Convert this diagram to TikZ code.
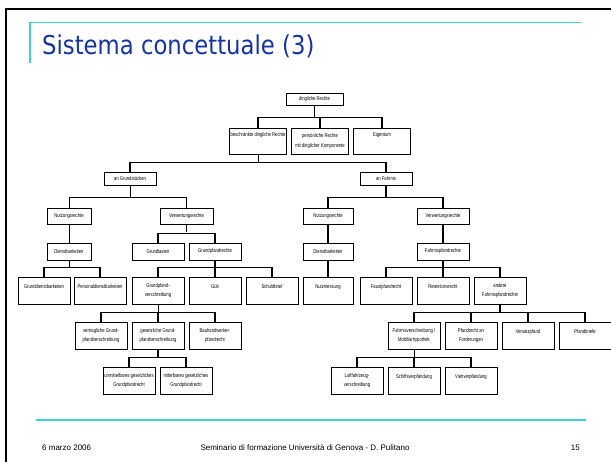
\documentclass[tikz,border=0pt]{standalone}
\usepackage{fontspec}
\setmainfont{Liberation Sans}
\newfontfamily\titlefont[FakeStretch=0.875]{DejaVu Sans}
\newfontfamily\boxfont[FakeStretch=0.76]{Liberation Sans}
\usetikzlibrary{shadows}
\definecolor{slideblue}{RGB}{22,52,160}
\definecolor{slidecyan}{RGB}{64,208,208}
\tikzset{
  recht/.style={draw=black, line width=0.5pt, fill=white, inner xsep=0.5pt, inner ysep=1pt,
    minimum width=52pt, align=center, font=\boxfont\fontsize{5.5}{9.5}\selectfont,
    drop shadow={shadow xshift=0.6pt, shadow yshift=-0.6pt, fill=black!70, opacity=1}},
  zeile2/.style={minimum width=57pt, minimum height=26pt},
  kopf2/.style={text height=7.5pt, text depth=16.5pt},
  hoch/.style={minimum height=27pt},
  kopf/.style={text height=10.5pt, text depth=14.5pt},
  stem/.style={line width=0.6pt},
  bar/.style={line width=1.5pt}
}
\begin{document}
\begin{tikzpicture}[x=1pt,y=1pt]
  \useasboundingbox (0,0) rectangle (611,-462);
  % slide frame
  \draw [line width=2pt] (6.2,-462) -- (6.2,-9) -- (611,-9);
  \draw [slidecyan, line width=1.3pt] (30,-63) -- (30,-22.5) -- (581,-22.5);
  \draw [slidecyan, line width=1.3pt] (36,-420) -- (586,-420);
  \node [anchor=base west, inner sep=0pt, text=slideblue, font=\titlefont\fontsize{26}{30}\selectfont] (titel) at (42,-55) {Sistema concettuale (3)};
  % footer
  \node [anchor=base west, inner sep=0pt, font=\fontsize{8}{9}\selectfont] (datum) at (42,-450) {6 marzo 2006};
  \node [anchor=base, inner sep=0pt, font=\fontsize{8}{9}\selectfont] (seminar) at (305,-450) {Seminario di formazione Università di Genova - D. Pulitano};
  \node [anchor=base east, inner sep=0pt, font=\fontsize{8}{9}\selectfont] (seite) at (580,-450) {15};
  % level 1 and 2
  \node [recht, minimum width=57pt, minimum height=12pt] (dR) at (314.5,-99) {dingliche Rechte};
  \node [recht, zeile2, kopf2] (bdR) at (258,-141) {beschränkte dingliche Rechte};
  \node [recht, zeile2] (pR) at (320,-141) {persönliche Rechte\\mit dinglicher Komponente};
  \node [recht, zeile2, kopf2] (eig) at (382,-141) {Eigentum};
  % level 3 and 4
  \node [recht, minimum height=13pt] (anG) at (130,-178.5) {an Grundstücken};
  \node [recht, minimum height=13pt] (anF) at (386,-178.5) {an Fahrnis};
  \node [recht, minimum width=44pt, minimum height=16pt] (nrG) at (69,-216) {Nutzungsrechte};
  \node [recht, minimum width=53pt, minimum height=16pt] (vrG) at (186.5,-216) {Verwertungsrechte};
  \node [recht, minimum width=50pt, minimum height=16pt] (nrF) at (328,-216) {Nutzungsrechte};
  \node [recht, minimum height=16pt] (vrF) at (443,-216) {Verwertungsrechte};
  % level 5
  \node [recht, minimum width=44pt, minimum height=17pt] (dbG) at (69,-251.5) {Dienstbarkeiten};
  \node [recht, minimum height=17pt] (gl) at (158,-251.5) {Grundlasten};
  \node [recht, minimum height=17pt] (gpr) at (215,-251.5) {Grundpfandrechte};
  \node [recht, minimum width=50pt, minimum height=17pt] (dbF) at (328,-251.5) {Dienstbarkeiten};
  \node [recht, minimum height=17pt] (fpr) at (443,-251.5) {Fahrnispfandrechte};
  % level 6
  \node [recht, hoch, kopf] (gdb) at (44,-290.5) {Grunddienstbarkeiten};
  \node [recht, hoch, kopf] (pdb) at (100,-290.5) {Personaldienstbarkeiten};
  \node [recht, hoch] (gpv) at (158,-290.5) {Grundpfand-\\verschreibung};
  \node [recht, hoch, kopf] (guelt) at (215,-290.5) {Gült};
  \node [recht, hoch, kopf] (sb) at (272,-290.5) {Schuldbrief};
  \node [recht, hoch, kopf, minimum width=50pt] (nn) at (328,-290.5) {Nutzniessung};
  \node [recht, hoch, kopf] (fp) at (386,-290.5) {Faustpfandrecht};
  \node [recht, hoch, kopf] (rr) at (443,-290.5) {Retentionsrecht};
  \node [recht, hoch] (afp) at (500,-290.5) {andere\\Fahrnispfandrechte};
  % level 7
  \node [recht, hoch] (vgv) at (101,-335.5) {vertragliche Grund-\\pfandverschreibung};
  \node [recht, hoch] (ggv) at (158,-335.5) {gesetzliche Grund-\\pfandverschreibung};
  \node [recht, hoch] (bhp) at (215,-335.5) {Bauhandwerker-\\pfandrecht};
  \node [recht, hoch] (fvm) at (414,-335.5) {Fahrnisverschreibung /\\Mobiliarhypothek};
  \node [recht, hoch] (pfo) at (471,-335.5) {Pfandrecht an\\Forderungen};
  \node [recht, hoch, kopf] (vsp) at (528,-335.5) {Versatzpfand};
  \node [recht, hoch, kopf] (pfb) at (585,-335.5) {Pfandbriefe};
  % level 8
  \node [recht, hoch] (ugp) at (129,-380.5) {unmittelbares gesetzliches\\Grundpfandrecht};
  \node [recht, hoch] (mgp) at (186,-380.5) {mittelbares gesetzliches\\Grundpfandrecht};
  \node [recht, hoch] (lfv) at (357,-380.5) {Luftfahrzeug-\\verschreibung};
  \node [recht, hoch, kopf] (sv) at (414,-380.5) {Schiffsverpfändung};
  \node [recht, hoch, kopf] (vv) at (471,-380.5) {Viehverpfändung};
  % connectors
  \draw [stem] (dR.south) -- ++(0,-13);
  \draw [bar] (bdR.north) -- ++(0,10) -| (eig.north);
  \draw [bar] (pR.north) -- ++(0,10);
  \draw [stem] (bdR.south) -- ++(0,-9);
  \draw [bar] (anG.north) -- ++(0,9) -| (anF.north);
  \draw [stem] (anG.south) -- ++(0,-13);
  \draw [stem] (nrG.north) -- ++(0,10) -| (vrG.north);
  \draw [bar] (anF.south) -- ++(0,-13);
  \draw [bar] (nrF.north) -- ++(0,10) -| (vrF.north);
  \draw [stem] (nrG) -- (dbG);
  \draw [stem] (vrG.south) -- ++(0,-8);
  \draw [bar] (gl.north) -- ++(0,9) -| (gpr.north);
  \draw [bar] (nrF) -- (dbF);
  \draw [bar] (vrF) -- (fpr);
  \draw [stem] (dbG.south) -- ++(0,-8);
  \draw [bar] (gdb.north) -- ++(0,9) -| (pdb.north);
  \draw [bar] (gpr.south) -- ++(0,-8);
  \draw [bar] (gpv.north) -- ++(0,9) -| (sb.north);
  \draw [bar] (guelt.north) -- ++(0,9);
  \draw [bar] (dbF) -- (nn);
  \draw [bar] (fpr.south) -- ++(0,-8);
  \draw [bar] (fp.north) -- ++(0,9) -| (afp.north);
  \draw [bar] (rr.north) -- ++(0,9);
  \draw [stem] (gpv.south) -- ++(0,-9);
  \draw [bar] (vgv.north) -- ++(0,9) -| (bhp.north);
  \draw [bar] (ggv.north) -- ++(0,9);
  \draw [bar] (afp.south) -- ++(0,-9);
  \draw [bar] (fvm.north) -- ++(0,9) -| (pfb.north);
  \draw [bar] (pfo.north) -- ++(0,9);
  \draw [bar] (vsp.north) -- ++(0,9);
  \draw [bar] (ggv.south) -- ++(0,-9);
  \draw [bar] (ugp.north) -- ++(0,9) -| (mgp.north);
  \draw [stem] (fvm.south) -- ++(0,-9);
  \draw [bar] (lfv.north) -- ++(0,9) -| (vv.north);
  \draw [bar] (sv.north) -- ++(0,9);
\end{tikzpicture}
\end{document}
